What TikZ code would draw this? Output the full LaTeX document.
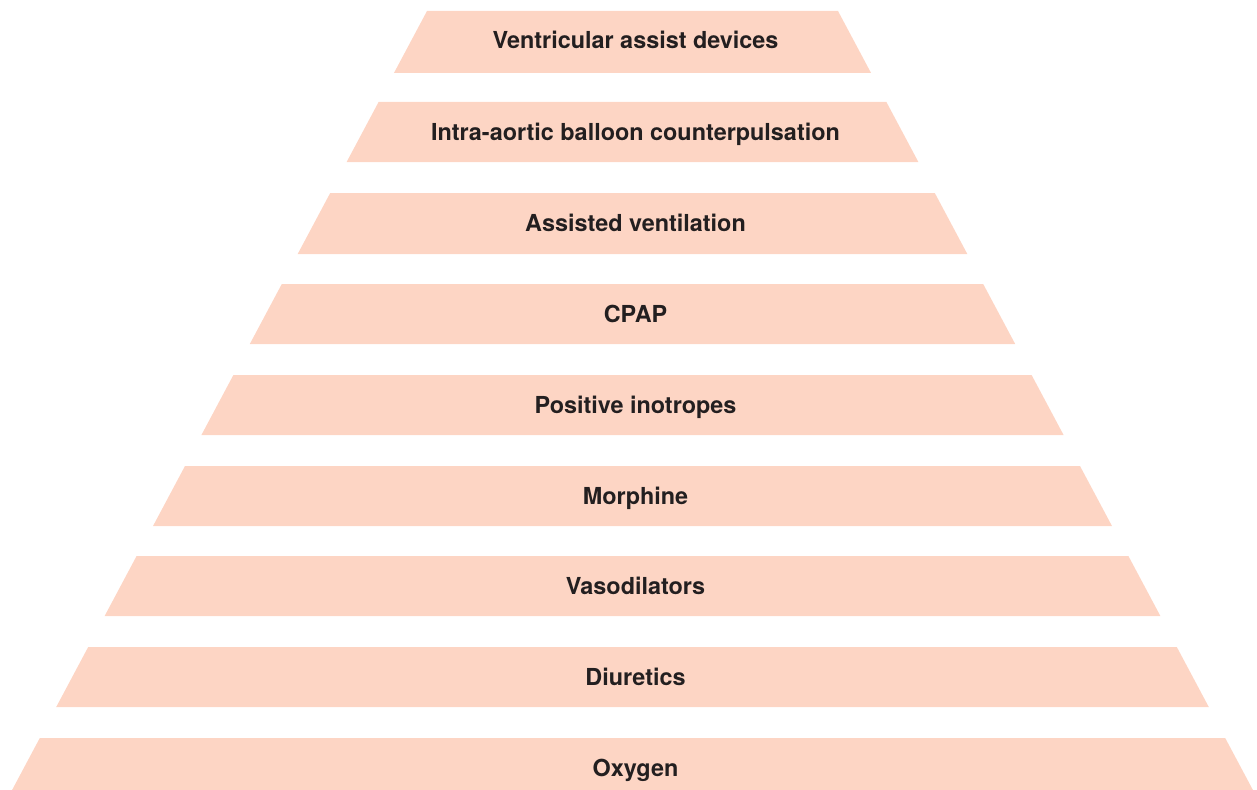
\documentclass[tikz,border=0pt]{standalone}
\usepackage{fontspec}
\setmainfont{TeX Gyre Heros}
\definecolor{tierfill}{HTML}{FDD5C4}
\definecolor{tiertext}{HTML}{231F20}
\tikzset{
  tier/.style={fill=tierfill, draw=none},
  tierlabel/.style={text=tiertext, font=\fontsize{23.4}{26}\selectfont\bfseries, inner sep=0pt, anchor=base}
}
\begin{document}
\begin{tikzpicture}[x=1pt,y=-1pt]
\useasboundingbox (0,0) rectangle (1257,789);
\clip (0,0) rectangle (1257,789);
\def\cx{632.5}
\def\tx{635.5}
\foreach \i/\top/\bot/\lab in {
  0/11/73/Ventricular assist devices,
  1/102/162/Intra-aortic balloon counterpulsation,
  2/193/254/Assisted ventilation,
  3/284/344/CPAP,
  4/375/435/Positive inotropes,
  5/466/526/Morphine,
  6/556/616/Vasodilators,
  7/647/707/Diuretics,
  8/738/798/Oxygen}{
  \pgfmathsetmacro{\hw}{205.5+48.4*\i}
  \pgfmathsetmacro{\hb}{\hw+0.533*(\bot-\top)}
  \fill[tier] (\cx-\hw,\top) -- (\cx+\hw,\top) -- (\cx+\hb,\bot) -- (\cx-\hb,\bot) -- cycle;
  \pgfmathsetmacro{\by}{\top+38}
  \node[tierlabel] (t\i) at (\tx,\by) {\lab};
}
\end{tikzpicture}
\end{document}
